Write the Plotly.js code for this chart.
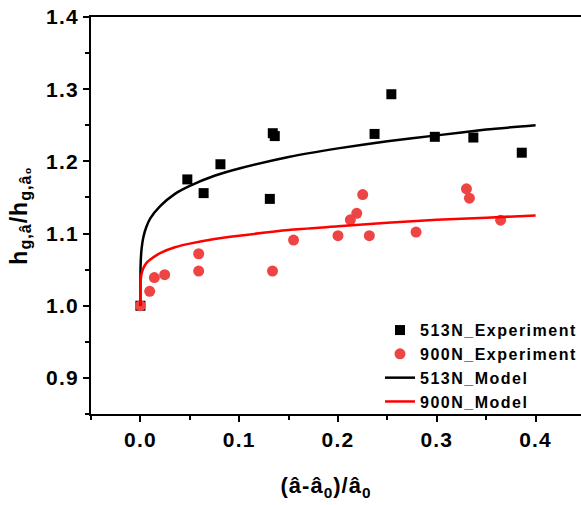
<!DOCTYPE html>
<html>
<head>
<meta charset="utf-8">
<script src="https://cdn.plot.ly/plotly-3.0.1.min.js"></script>
<style>
html,body{margin:0;padding:0;overflow:hidden;background:#fff;}
#chart{width:600px;height:505px;}
#chart g.xtick text, #chart g.ytick text{letter-spacing:1.2px;}
#chart text.legendtext{letter-spacing:1.5px;}
#chart g.legend, #chart g.legend g.scrollbox{clip-path:none !important;}
#chart text.ytitle{letter-spacing:1px;}
#chart g.annotation text{letter-spacing:1px;}
</style>
</head>
<body>
<div id="chart"></div>
<script>
// 513N experiment
const exp513X = [0, 0.0475, 0.064, 0.081, 0.131, 0.134, 0.136, 0.237, 0.254, 0.298, 0.337, 0.386];
const exp513Y = [1.0, 1.175, 1.156, 1.196, 1.148, 1.239, 1.235, 1.238, 1.293, 1.234, 1.233, 1.212];
// 900N experiment
const exp900X = [0, 0.0094, 0.0141, 0.0246, 0.059, 0.059, 0.1337, 0.155, 0.200, 0.2125, 0.219, 0.225, 0.2317, 0.279, 0.330, 0.333, 0.3646];
const exp900Y = [1.0, 1.020, 1.039, 1.043, 1.072, 1.048, 1.048, 1.091, 1.097, 1.119, 1.128, 1.154, 1.097, 1.102, 1.162, 1.149, 1.1185];
// model curves
const modelX = [0, 0.0002, 0.001, 0.003, 0.006, 0.01, 0.02, 0.035, 0.05, 0.075, 0.1, 0.15, 0.2, 0.25, 0.3, 0.35, 0.4];
const model513Y = [1.0, 1.056, 1.076, 1.095, 1.109, 1.121, 1.138, 1.155, 1.166, 1.180, 1.190, 1.206, 1.218, 1.228, 1.236, 1.244, 1.250];
const model900Y = [1.0, 1.032, 1.043, 1.052, 1.059, 1.064, 1.073, 1.081, 1.086, 1.0925, 1.097, 1.105, 1.110, 1.115, 1.119, 1.122, 1.125];

const names = ['513N_Experiment', '900N_Experiment', '513N_Model', '900N_Model'];
const xTickVals = [0, 0.1, 0.2, 0.3, 0.4];
const xTickText = ['0.0', '0.1', '0.2', '0.3', '0.4'];
const yTickVals = [0.9, 1.0, 1.1, 1.2, 1.3, 1.4];
const yTickText = ['0.9', '1.0', '1.1', '1.2', '1.3', '1.4'];
const xTitle = '(â-â<sub>0</sub>)/â<sub>0</sub>';
const yTitle = 'h<sub>g,â</sub>/h<sub>g,â₀</sub>';

const FONT = 'Liberation Sans, Arial, sans-serif';

const traces = [
  {x: exp513X, y: exp513Y, name: names[0], type: 'scatter', mode: 'markers',
   marker: {symbol: 'square', size: 10, color: '#000000'}},
  {x: exp900X, y: exp900Y, name: names[1], type: 'scatter', mode: 'markers',
   marker: {symbol: 'circle', size: 11, color: '#EF4444'}},
  {x: modelX, y: model513Y, name: names[2], type: 'scatter', mode: 'lines',
   line: {color: '#000000', width: 2.5, shape: 'spline', smoothing: 0.6}},
  {x: modelX, y: model900Y, name: names[3], type: 'scatter', mode: 'lines',
   line: {color: '#FF0000', width: 2.5, shape: 'spline', smoothing: 0.6}}
];

const layout = {
  width: 600, height: 505,
  margin: {l: 91, r: 15, t: 17, b: 91},
  paper_bgcolor: '#ffffff', plot_bgcolor: '#ffffff',
  font: {family: FONT, color: '#000000'},
  showlegend: true,
  legend: {x: 0.585, y: 0.254, xanchor: 'left', yanchor: 'top',
           bgcolor: 'rgba(0,0,0,0)', borderwidth: 0,
           font: {family: FONT, size: 16, color: '#000', weight: 'bold'},
           tracegroupgap: 0},
  xaxis: {
    range: [-0.05, 0.45], showgrid: false, zeroline: false,
    showline: true, linecolor: '#000', linewidth: 2, mirror: true,
    ticks: 'outside', ticklen: 6, tickwidth: 2, tickcolor: '#000',
    tickvals: xTickVals, ticktext: xTickText,
    tickfont: {family: FONT, size: 21, color: '#000', weight: 'bold'},
    minor: {dtick: 0.05, tick0: 0, ticks: 'outside', ticklen: 4, tickwidth: 2, tickcolor: '#000', showgrid: false}
  },
  yaxis: {
    range: [0.85, 1.4], showgrid: false, zeroline: false,
    showline: true, linecolor: '#000', linewidth: 2, mirror: true,
    ticks: 'outside', ticklen: 6, tickwidth: 2, tickcolor: '#000',
    tickvals: yTickVals, ticktext: yTickText,
    tickfont: {family: FONT, size: 21, color: '#000', weight: 'bold'},
    minor: {dtick: 0.05, tick0: 0, ticks: 'outside', ticklen: 4, tickwidth: 2, tickcolor: '#000', showgrid: false},
    title: {text: yTitle, standoff: 16,
            font: {family: FONT, size: 23, color: '#000', weight: 'bold'}}
  },
  annotations: [
    {text: xTitle, xref: 'paper', yref: 'paper', x: 0.476, y: -0.184,
     xanchor: 'center', yanchor: 'middle', showarrow: false,
     font: {family: FONT, size: 22, color: '#000', weight: 'bold'}}
  ]
};

Plotly.newPlot('chart', traces, layout, {displayModeBar: false, staticPlot: true});
</script>
</body>
</html>
